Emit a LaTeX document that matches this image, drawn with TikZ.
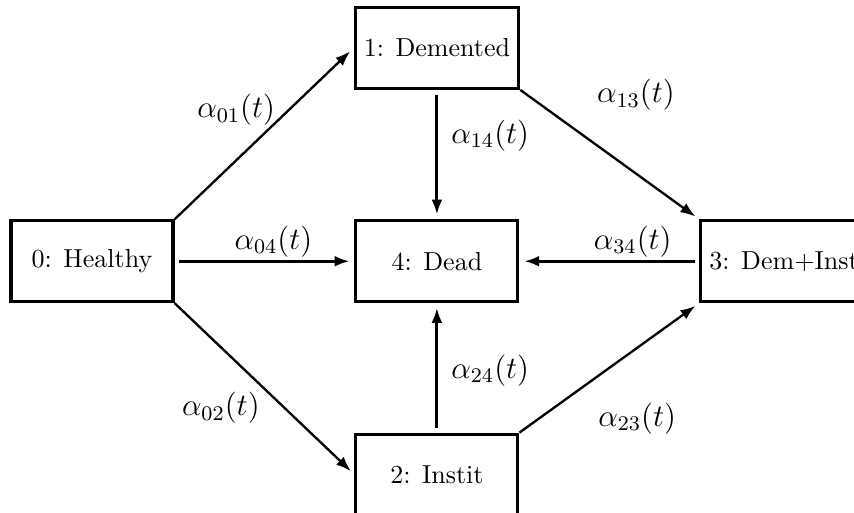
\documentclass[tikz,border=0pt]{standalone}
\usepackage{amsmath}
\usepackage{tikz}
\usetikzlibrary{arrows.meta, positioning}
\tikzset{
  state/.style={rectangle, draw=black, line width=1.2pt,
    minimum width=2.19cm, minimum height=1.09cm, font=\normalsize},
  rate/.style={font=\fontsize{11.5}{13.8}\selectfont, inner xsep=5pt, inner ysep=1pt},
  arrow/.style={-{Latex[length=5.8pt,width=4.2pt]}, line width=1.2pt,
    shorten >=1.8pt, shorten <=1.8pt},
  diagarrow/.style={-{Latex[length=5.8pt,width=4.2pt]}, line width=0.9pt,
    shorten >=1.8pt}
}

\begin{document}
\begin{tikzpicture}[node distance=1.75cm and 2.43cm]
  \clip (-1.2436,-3.390) rectangle (10.30,3.531);
  % States
  \node[state] (healthy) at (0,0) {0: Healthy};
  \node[state, right=of healthy] (dead) {4: Dead};
  \node[state, above=of dead] (dem) {1: Demented};
  \node[state, below=of dead] (inst) {2: Instit};
  \node[state, right=of dead] (deminst) {3: Dem+Inst};
  % Transitions out of healthy
  \draw[diagarrow] (healthy.north east) -- (dem.west)
    node[rate, pos=0.64, left] {$\alpha_{01}(t)$};
  \draw[diagarrow] (healthy.south east) -- (inst.west)
    node[rate, pos=0.61, left=4pt] {$\alpha_{02}(t)$};
  \draw[arrow] (healthy) -- (dead)
    node[rate, pos=0.55, above] {$\alpha_{04}(t)$};
  % Into death
  \draw[arrow] (dem) -- (dead)
    node[rate, pos=0.35, right] {$\alpha_{14}(t)$};
  \draw[arrow] (inst) -- (dead)
    node[rate, pos=0.48, right] {$\alpha_{24}(t)$};
  \draw[arrow] (deminst) -- (dead)
    node[rate, pos=0.37, above] {$\alpha_{34}(t)$};
  % Into demented and institutionalised
  \draw[diagarrow] (dem.south east) -- (deminst.north west)
    node[rate, pos=0.35, above right, yshift=8pt] {$\alpha_{13}(t)$};
  \draw[diagarrow] (inst.north east) -- (deminst.south west)
    node[rate, pos=0.36, below right, yshift=-5pt] {$\alpha_{23}(t)$};
\end{tikzpicture}
\end{document}
